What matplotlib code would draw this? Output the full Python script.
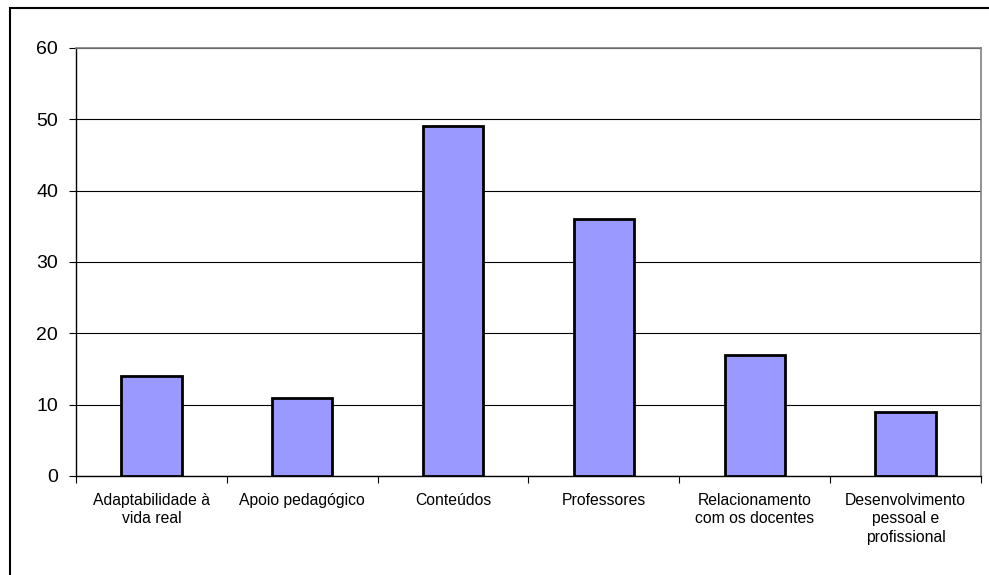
import matplotlib
matplotlib.use("Agg")
import matplotlib.pyplot as plt
from matplotlib.patches import Rectangle

categories = [
    "Adaptabilidade à\nvida real",
    "Apoio pedagógico",
    "Conteúdos",
    "Professores",
    "Relacionamento\ncom os docentes",
    "Desenvolvimento\npessoal e\nprofissional",
]
values = [14, 11, 49, 36, 17, 9]
y_ticks = [0, 10, 20, 30, 40, 50, 60]

plt.rcParams["font.family"] = ["Liberation Sans", "DejaVu Sans"]

W, H = 989, 575
fig = plt.figure(figsize=(W / 100, H / 100), dpi=100)
ax = fig.add_axes([76 / W, 1 - 476 / H, (981 - 76) / W, (476 - 48) / H])

x = list(range(len(categories)))
ax.bar(x, values, width=0.4, color="#9999FF", edgecolor="black", linewidth=2.0, zorder=3)

ax.set_xlim(-0.5, len(categories) - 0.5)
ax.set_ylim(0, 60)
ax.set_yticks(y_ticks)
ax.tick_params(axis="y", labelsize=14, length=5, width=0.8, direction="out", pad=8)

# category labels centred, ticks on the boundaries
ax.set_xticks(x)
ax.set_xticklabels(categories, fontsize=11.3, linespacing=1.3)
ax.tick_params(axis="x", which="major", length=0, pad=12)
ax.set_xticks([i - 0.5 for i in range(len(categories) + 1)], minor=True)
ax.tick_params(axis="x", which="minor", length=5, width=0.8, direction="out")

ax.yaxis.grid(True, color="black", linewidth=0.8, zorder=0)
ax.set_axisbelow(True)

for side in ("top", "right"):
    ax.spines[side].set_color("#808080")
    ax.spines[side].set_linewidth(1.2)
for side in ("left", "bottom"):
    ax.spines[side].set_color("black")
    ax.spines[side].set_linewidth(1.0)

# outer chart border (right and bottom edges fall outside the image)
fig.patches.append(Rectangle((10 / W, -0.05), 1.1, 1 - 7.5 / H + 0.05,
                             transform=fig.transFigure, fill=False,
                             edgecolor="black", linewidth=1.5))

fig.savefig("out.png", dpi=100)
